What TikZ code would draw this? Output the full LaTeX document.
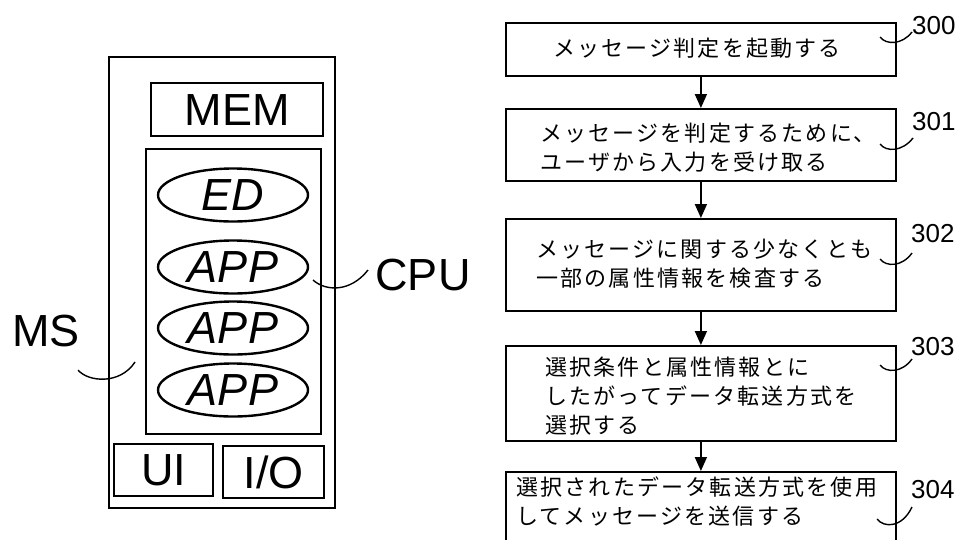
\documentclass[tikz,border=0pt]{standalone}
\usepackage{fontspec}
\newfontfamily\cjk[LetterSpace=10]{Noto Sans CJK JP}
\newfontfamily\arial{Liberation Sans}
\usetikzlibrary{arrows.meta,shapes.geometric}
\begin{document}
\begin{tikzpicture}[x=1pt,y=-1pt,
  heavybox/.style={draw,line width=2.4pt,rectangle,inner sep=0pt,anchor=north west},
  oval/.style={draw,line width=2.4pt,ellipse,inner sep=0pt,minimum width=150pt,minimum height=53pt},
  bigtxt/.style={inner sep=0pt,font=\arial\fontsize{45}{50}\selectfont},
  ittxt/.style={inner sep=0pt,font=\arial\itshape\fontsize{45}{50}\selectfont},
  flowbox/.style={draw,line width=1.8pt,rectangle,inner sep=0pt,anchor=north west,minimum width=390pt},
  jtxt/.style={inner sep=0pt,anchor=west,align=left,font=\cjk\fontsize{22}{29}\selectfont},
  reftxt/.style={inner sep=0pt,anchor=west,font=\arial\fontsize{26}{28}\selectfont},
  lead/.style={line width=1.4pt},
  arr/.style={line width=1.8pt,-{Triangle[width=12pt,length=14pt]}}]
\useasboundingbox (0,0) rectangle (958,539);
% ---- left block ----
\node[heavybox,minimum width=226pt,minimum height=451pt] (ms) at (108,56) {};
\node[heavybox,minimum width=172pt,minimum height=53pt] (mem) at (150,82) {};
\node[bigtxt] (memt) at (mem.center) {MEM};
\node[heavybox,minimum width=175pt,minimum height=285pt] (cpu) at (145,148) {};
\node[oval] (ed) at (233,195) {};
\node[ittxt] (edt) at (ed.center) {ED};
\node[oval] (app1) at (233,267) {};
\node[ittxt] (app1t) at (app1.center) {APP};
\node[oval] (app2) at (233,328) {};
\node[ittxt] (app2t) at (app2.center) {APP};
\node[oval] (app3) at (233,390) {};
\node[ittxt] (app3t) at (app3.center) {APP};
\node[heavybox,minimum width=99pt,minimum height=52pt] (ui) at (113,443) {};
\node[bigtxt] (uit) at (ui.center) {UI};
\node[heavybox,minimum width=101pt,minimum height=52pt] (io) at (222,445) {};
\node[bigtxt] (iot) at (io.center) {I/O};
\node[bigtxt] (cpulbl) at (423,275) {CPU};
\node[bigtxt] (mslbl) at (46,331) {MS};
\draw[lead] (313,280) .. controls (325,291) and (350,293) .. (368,270);
\draw[lead] (78,370) .. controls (88,382) and (120,385) .. (135,362);
% ---- flowchart ----
\node[flowbox,minimum height=53pt] (b300) at (505,22) {};
\node[flowbox,minimum height=72pt] (b301) at (505,108) {};
\node[flowbox,minimum height=92pt] (b302) at (505,218) {};
\node[flowbox,minimum height=95pt] (b303) at (505,345) {};
\node[flowbox,minimum height=90pt] (b304) at (505,471) {};
\node[jtxt] (t300) at (553,48) {メッセージ判定を起動する};
\node[jtxt] (t301) at (540,148) {メッセージを判定するために、\\ユーザから入力を受け取る};
\node[jtxt] (t302) at (536,264) {メッセージに関する少なくとも\\一部の属性情報を検査する};
\node[jtxt] (t303) at (545,396) {選択条件と属性情報とに\\したがってデータ転送方式を\\選択する};
\node[jtxt] (t304) at (516,501) {選択されたデータ転送方式を使用\\してメッセージを送信する};
\draw[arr] (b300.south) -- (b301.north);
\draw[arr] (b301.south) -- (b302.north);
\draw[arr] (b302.south) -- (b303.north);
\draw[arr] (b303.south) -- (b304.north);
\node[reftxt] (r300) at (912,26) {300};
\node[reftxt] (r301) at (912,122) {301};
\node[reftxt] (r302) at (911,234) {302};
\node[reftxt] (r303) at (911,347) {303};
\node[reftxt] (r304) at (911,490) {304};
\draw[lead] (880,37) .. controls (886,45) and (902,45) .. (912,32);
\draw[lead] (880,144) .. controls (886,152) and (902,152) .. (913,138);
\draw[lead] (880,259) .. controls (886,267) and (902,267) .. (912,253);
\draw[lead] (880,365) .. controls (886,373) and (902,373) .. (912,359);
\draw[lead] (877,519) .. controls (884,528) and (902,528) .. (912,507);
\end{tikzpicture}
\end{document}
